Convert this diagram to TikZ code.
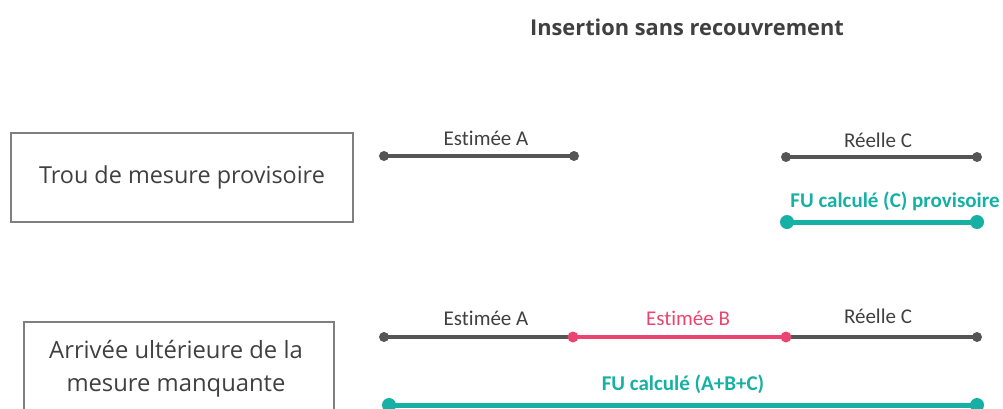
\documentclass[tikz,border=0pt]{standalone}
\usepackage{fontspec}
\setmainfont{Open Sans}
\newfontfamily\labelfont[Ligatures=NoCommon]{Carlito}
\definecolor{greyline}{HTML}{555555}
\definecolor{greytext}{HTML}{404040}
\definecolor{tealc}{HTML}{17B0A4}
\definecolor{pinkc}{HTML}{EA4570}
\definecolor{boxline}{HTML}{7F7F7F}
\begin{document}
\begin{tikzpicture}[x=1pt,y=-1pt,
  casebox/.style={draw=boxline,line width=1.5pt,inner sep=0pt,text=greytext,
    font=\fontsize{23.4}{32}\selectfont,align=center},
  seglabel/.style={font=\labelfont\fontsize{21}{24}\selectfont,text=greytext,anchor=base},
  fulabel/.style={font=\labelfont\bfseries\fontsize{21}{24}\selectfont,text=tealc,anchor=base},
  greyseg/.style={draw=greyline,line width=3.5pt},
  pinkseg/.style={draw=pinkc,line width=3.5pt},
  tealseg/.style={draw=tealc,line width=5pt},
  greydot/.style={fill=greyline,circle,inner sep=0pt,minimum size=10pt},
  pinkdot/.style={fill=pinkc,circle,inner sep=0pt,minimum size=11pt},
  tealdot/.style={fill=tealc,circle,inner sep=0pt,minimum size=14pt}]
\useasboundingbox (0,0) rectangle (1003,408);

% title
\node[font=\bfseries\fontsize{21.8}{24}\selectfont,text=greytext] (title) at (687,27) {Insertion sans recouvrement};

% left-hand case boxes
\node[casebox,minimum width=342pt,minimum height=89pt] (case1) at (182,177.5) {Trou de mesure provisoire};
\draw[boxline,line width=1.5pt] (24,430) -- (24,322) -- (334,322) -- (334,430);
\node[text=greytext,font=\fontsize{23.8}{33}\selectfont,align=center] (case2) at (176,369) {Arrivée ultérieure de la\\mesure manquante};

% first row: provisional gap
\coordinate (a1s) at (384,156);
\coordinate (a1e) at (574,156);
\coordinate (c1s) at (786,157);
\coordinate (c1e) at (977,157);
\coordinate (f1s) at (787,222);
\coordinate (f1e) at (977,222);
\draw[greyseg] (a1s) -- (a1e);
\draw[greyseg] (c1s) -- (c1e);
\draw[tealseg] (f1s) -- (f1e);
\foreach \p in {a1s,a1e,c1s,c1e} \node[greydot] at (\p) {};
\foreach \p in {f1s,f1e} \node[tealdot] at (\p) {};
\node[seglabel] (la1) at (486,145) {Estimée A};
\node[seglabel] (lc1) at (878,147) {Réelle C};
\node[fulabel] (lf1) at (895,207) {FU calculé (C) provisoire};

% second row: missing measure arrives later
\coordinate (a2s) at (384,337);
\coordinate (ab2) at (573,337);
\coordinate (bc2) at (786,337);
\coordinate (c2e) at (977,337);
\coordinate (f2s) at (389,405);
\coordinate (f2e) at (977,405);
\draw[greyseg] (a2s) -- (ab2);
\draw[pinkseg] (ab2) -- (bc2);
\draw[greyseg] (bc2) -- (c2e);
\draw[tealseg] (f2s) -- (f2e);
\foreach \p in {a2s,c2e} \node[greydot] at (\p) {};
\foreach \p in {ab2,bc2} \node[pinkdot] at (\p) {};
\foreach \p in {f2s,f2e} \node[tealdot] at (\p) {};
\node[seglabel] (la2) at (486,325) {Estimée A};
\node[seglabel,text=pinkc] (lb2) at (688,325) {Estimée B};
\node[seglabel] (lc2) at (878,323) {Réelle C};
\node[fulabel] (lf2) at (683,390) {FU calculé (A+B+C)};
\end{tikzpicture}
\end{document}
